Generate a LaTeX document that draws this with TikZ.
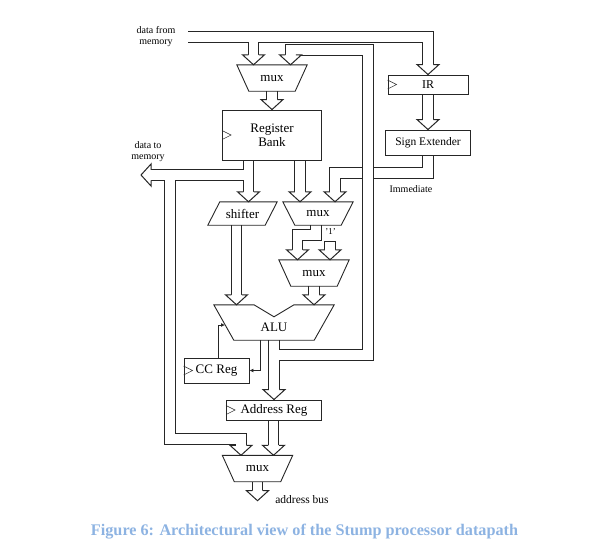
\documentclass[tikz,border=0pt]{standalone}
\usepackage{fontspec}
\setmainfont{Liberation Serif}
\usetikzlibrary{arrows.meta,backgrounds}
\definecolor{capblue}{RGB}{141,179,226}
\colorlet{ink}{black!85}

\tikzset{
  blk/.style={draw=ink, line width=0.9pt},
  txt/.style={inner sep=0pt, font=\fontsize{13}{14}\selectfont},
  regbox/.style={txt, blk, fill=white},
  muxbox/.style={txt, minimum width=46pt, minimum height=26pt},
  lbl/.style={inner sep=0pt, align=center, font=\fontsize{10}{11}\selectfont},
  busline/.style={draw=ink, line width=11.5pt},
  busfill/.style={draw=white, line width=9.5pt},
  clk/.style={draw=ink, line width=0.5pt},
  ctrl/.style={draw=ink, line width=0.8pt, -{Latex[length=4pt,width=4pt]}},
  headdown/.pic={\filldraw[blk, line width=1pt, fill=white] (-5.25,-10) -- (-11,-10) -- (0,0) -- (11,-10) -- (5.25,-10);},
  headleft/.pic={\filldraw[blk, line width=1pt, fill=white] (10,-5.25) -- (10,-11) -- (0,0) -- (10,11) -- (10,5.25);},
}

\begin{document}
\begin{tikzpicture}[x=1pt,y=-1pt]
\useasboundingbox (0,0) rectangle (609,557);

% blocks
\node[lbl] (dinlbl) at (156,37) {data from\\memory};
\node[muxbox] (mux1) at (272,78) {mux};
\node[regbox, minimum width=99pt, minimum height=50pt, align=center] (regbank) at (272,135) {Register\\Bank};
\node[regbox, minimum width=80pt, minimum height=19pt, font=\fontsize{12}{13}\selectfont] (ir) at (428,84.5) {IR};
\node[regbox, minimum width=85pt, minimum height=25pt, font=\fontsize{11.5}{12}\selectfont] (signext) at (428,142.5) {Sign Extender};
\node[lbl] (immlbl) at (411,189) {Immediate};
\node[lbl] (doutlbl) at (148,151.5) {data to\\memory};
\node[muxbox, minimum width=57pt, minimum height=23pt] (shifter) at (242.5,213.5) {shifter};
\node[muxbox, minimum height=23pt] (mux2) at (318,213.5) {mux};
\node[muxbox] (mux3) at (314,273) {mux};
\node[lbl, font=\fontsize{9}{9}\selectfont] (onelbl) at (330.5,232) {'1'};
\node[muxbox, minimum width=80pt, minimum height=35pt] (alu) at (274,322.5) {};
\node[txt] (alulbl) at (274,327) {ALU};
\node[regbox, minimum width=65pt, minimum height=25pt] (ccreg) at (216.5,370.5) {CC Reg};
\node[regbox, minimum width=95pt, minimum height=20pt] (addrreg) at (274,410) {Address Reg};
\node[muxbox] (mux4) at (257.5,468.5) {mux};
\node[lbl, font=\fontsize{11.5}{12}\selectfont] (abuslbl) at (302,500) {address bus};

\foreach \m in {mux1,mux2,mux3,mux4}
  \draw[blk] ([xshift=-12pt]\m.north west) -- ([xshift=12pt]\m.north east) -- (\m.south east) -- (\m.south west) -- cycle;
\draw[blk] ([xshift=6pt]shifter.north west) -- ([xshift=6pt]shifter.north east) -- ([xshift=-6pt]shifter.south east) -- ([xshift=-6pt]shifter.south west) -- cycle;
\draw[blk] ([xshift=-20pt]alu.north west) -- ([xshift=-20pt]alu.north) -- ([yshift=-12pt]alu.north) -- ([xshift=20pt]alu.north) -- ([xshift=20pt]alu.north east) -- (alu.south east) -- (alu.south west) -- cycle;

% clock inputs
\foreach \r in {regbank,ir,ccreg,addrreg}
  \draw[clk] ([yshift=4.5pt]\r.west) -- ++(9,4.5) -- ++(-9,4.5);

% condition codes
\coordinate (ccin) at (225,325);
\draw[ctrl] ([xshift=-14pt]alu.south) |- (ccreg.east);
\draw[ctrl] ([xshift=1.5pt]ccreg.north) |- (ccin);

% buses
\coordinate (din) at (188,37);
\coordinate (wb) at (368,50);
\coordinate (imm) at (335,173);
\coordinate (dmem) at (141,175);
\coordinate (lp) at (170,439);
\coordinate (jog) at (297.5,235);
\coordinate (onetop) at (330,241);

\begin{pgfonlayer}{background}
  % immediate value runs under the write-back bus
  \foreach \s in {busline,busfill}
    \draw[\s] (signext.south) |- (imm) -- ([yshift=10pt]imm |- mux2.north);
  \pic at (imm |- mux2.north) {headdown};
  \foreach \s in {busline,busfill} {
    \draw[\s] (din) -| ([yshift=10pt]ir.north);
    \draw[\s] ([xshift=-18.5pt]mux1.north |- din) -- ([xshift=-18.5pt,yshift=10pt]mux1.north);
    \draw[\s] (mux1.south) -- ([yshift=10pt]regbank.north);
    \draw[\s] (ir.south) -- ([yshift=10pt]signext.north);
    \draw[\s] ([xshift=6pt]shifter.north |- regbank.south) -- ([xshift=6pt,yshift=10pt]shifter.north);
    \draw[\s] ([xshift=6pt]shifter.north |- dmem) -- ([xshift=10pt]dmem);
    \draw[\s] (lp |- dmem) -- (lp) -| ([xshift=-16.5pt,yshift=10pt]mux4.north);
    \draw[\s] ([xshift=-18pt]mux2.north |- regbank.south) -- ([xshift=-18pt,yshift=10pt]mux2.north);
    \draw[\s] ([xshift=-2pt]mux2.south) |- (jog) -- ([yshift=10pt]jog |- mux3.north);
    \draw[\s] (onetop) -- ([yshift=10pt]onetop |- mux3.north);
    \draw[\s] ([xshift=-6pt]shifter.south) -- ([xshift=-6pt,yshift=10pt]shifter.south |- alu.north);
    \draw[\s] (mux3.south) -- ([yshift=10pt]mux3.south |- alu.north);
    \draw[\s] (alu.south) -- ([yshift=10pt]addrreg.north);
    \draw[\s] ([yshift=-15pt]alu.south) -| (wb) -| ([xshift=18.5pt,yshift=10pt]mux1.north);
    \draw[\s] ([xshift=16pt]mux4.north |- addrreg.south) -- ([xshift=16pt,yshift=10pt]mux4.north);
    \draw[\s] (mux4.south) -- ([yshift=-9pt]mux4.south);
  }
  \pic at (ir.north) {headdown};
  \pic at ([xshift=-18.5pt]mux1.north) {headdown};
  \pic at ([xshift=18.5pt]mux1.north) {headdown};
  \pic at (regbank.north) {headdown};
  \pic at (signext.north) {headdown};
  \pic at ([xshift=6pt]shifter.north) {headdown};
  \pic at ([xshift=-18pt]mux2.north) {headdown};
  \pic at ([xshift=-16.5pt]mux4.north) {headdown};
  \pic at (jog |- mux3.north) {headdown};
  \pic at (onetop |- mux3.north) {headdown};
  \pic at ([xshift=-6pt]shifter.south |- alu.north) {headdown};
  \pic at (mux3.south |- alu.north) {headdown};
  \pic at (addrreg.north) {headdown};
  \pic at ([xshift=16pt]mux4.north) {headdown};
  \pic at ([yshift=-19pt]mux4.south) {headdown};
  \pic at (dmem) {headleft};
  \draw[blk, line width=1pt] ([xshift=-5.25pt]onetop) -- ([xshift=5.25pt]onetop);
\end{pgfonlayer}

\node[font=\fontsize{16.2}{18}\selectfont\bfseries, text=capblue, anchor=base, inner sep=0pt] (caption) at (304.5,535) {Figure 6: Architectural view of the Stump processor datapath};
\end{tikzpicture}
\end{document}
